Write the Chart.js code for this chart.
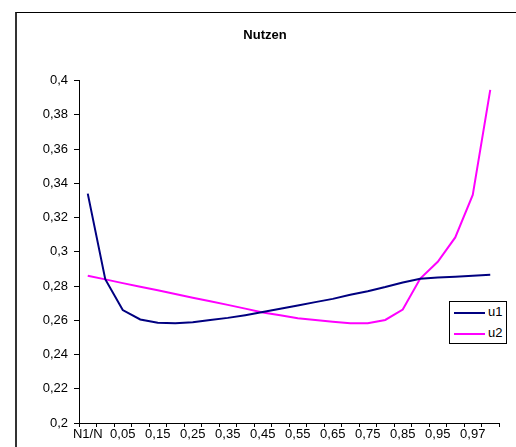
<!DOCTYPE html>
<html>
<head>
<meta charset="utf-8">
<script src="https://cdn.jsdelivr.net/npm/chart.js@4/dist/chart.umd.min.js"></script>
<style>
  body { margin: 0; background: #fff; }
  #wrap { position: relative; width: 516px; height: 447px; overflow: hidden; font-family: Arial, "Liberation Sans", sans-serif; }
  #frame { position: absolute; left: 15px; top: 12px; width: 700px; height: 700px;
    border-left: 2px solid #333; border-top: 1px solid #000; pointer-events: none; }
  #legend { position: absolute; left: 449px; top: 301px; width: 56px; height: 41px;
    border: 1px solid #000; background: #fff; font-size: 13px; }
  .item { position: absolute; left: 4px; height: 14px; }
  .item span.sw { position: absolute; left: 0; top: 6px; width: 31px; height: 0; border-top: 2px solid; }
  .item span.tx { position: absolute; left: 34px; top: -2px; color: #000; }
</style>
</head>
<body>
<div id="wrap">
  <canvas id="chart" width="516" height="447"></canvas>
  <div id="frame"></div>
  <div id="legend"></div>
</div>
<script>
// categories (only every other one is labelled on the axis)
const categories = ['N1/N', '0,03', '0,05', '0,1', '0,15', '0,2', '0,25', '0,3', '0,35', '0,4',
  '0,45', '0,5', '0,55', '0,6', '0,65', '0,7', '0,75', '0,8', '0,85', '0,9', '0,95', '0,96', '0,97', '0,99'];

const u1 = [0.334, 0.284, 0.266, 0.2605, 0.2585, 0.2583, 0.2589, 0.2602, 0.2614, 0.263,
  0.2648, 0.2667, 0.2686, 0.2706, 0.2725, 0.2749, 0.277, 0.2794, 0.2821, 0.2842,
  0.285, 0.2854, 0.286, 0.2866];

const u2 = [0.286, 0.2839, 0.2817, 0.2796, 0.2775, 0.2753, 0.2732, 0.2711, 0.269, 0.2668,
  0.2646, 0.263, 0.2612, 0.2601, 0.2591, 0.2583, 0.2583, 0.2602, 0.2663, 0.2844,
  0.2942, 0.3084, 0.3332, 0.3946];

const seriesNames = ['u1', 'u2'];
const seriesColors = ['#000080', '#ff00ff'];

const font = 'Arial, "Liberation Sans", sans-serif';

const fmt = (v) => Number(v.toFixed(2)).toString().replace('.', ',');

new Chart(document.getElementById('chart'), {
  type: 'line',
  data: {
    labels: categories,
    datasets: [u1, u2].map((d, i) => ({
      label: seriesNames[i],
      data: d,
      borderColor: seriesColors[i],
      borderWidth: 2,
      pointRadius: 0,
      tension: 0,
      fill: false,
    })),
  },
  options: {
    responsive: false,
    animation: false,
    // left padding larger so the title sits centred in the outer frame
    layout: { padding: { left: 31, right: 17, top: 0, bottom: 0 } },
    plugins: {
      legend: { display: false },
      tooltip: { enabled: false },
      title: {
        display: true,
        text: 'Nutzen',
        color: '#000',
        font: { family: font, size: 13, weight: 'bold' },
        padding: { top: 28, bottom: 37 },
      },
    },
    scales: {
      x: {
        type: 'category',
        offset: true,
        afterFit: (s) => { s.height = 24; },
        grid: { offset: true, drawOnChartArea: false, drawTicks: true, tickLength: 4, color: '#000' },
        border: { display: true, color: '#000', width: 1 },
        ticks: {
          autoSkip: false,
          maxRotation: 0,
          padding: 0,
          color: '#000',
          font: { family: font, size: 13 },
          callback: function (val, index) {
            return index % 2 === 0 ? this.getLabelForValue(val) : '';
          },
        },
      },
      y: {
        min: 0.2,
        max: 0.4,
        afterFit: (s) => { s.width = 48; },
        grid: { drawOnChartArea: false, drawTicks: true, tickLength: 5, color: '#000' },
        border: { display: true, color: '#000', width: 1 },
        ticks: {
          stepSize: 0.02,
          padding: 6,
          color: '#000',
          font: { family: font, size: 13 },
          callback: (v) => fmt(v),
        },
      },
    },
  },
});

// legend box like the spreadsheet one
const legend = document.getElementById('legend');
seriesNames.forEach((name, i) => {
  const item = document.createElement('div');
  item.className = 'item';
  item.style.top = (4 + i * 21) + 'px';
  item.innerHTML = '<span class="sw" style="border-color:' + seriesColors[i] + '"></span><span class="tx">' + name + '</span>';
  legend.appendChild(item);
});
</script>
</body>
</html>
